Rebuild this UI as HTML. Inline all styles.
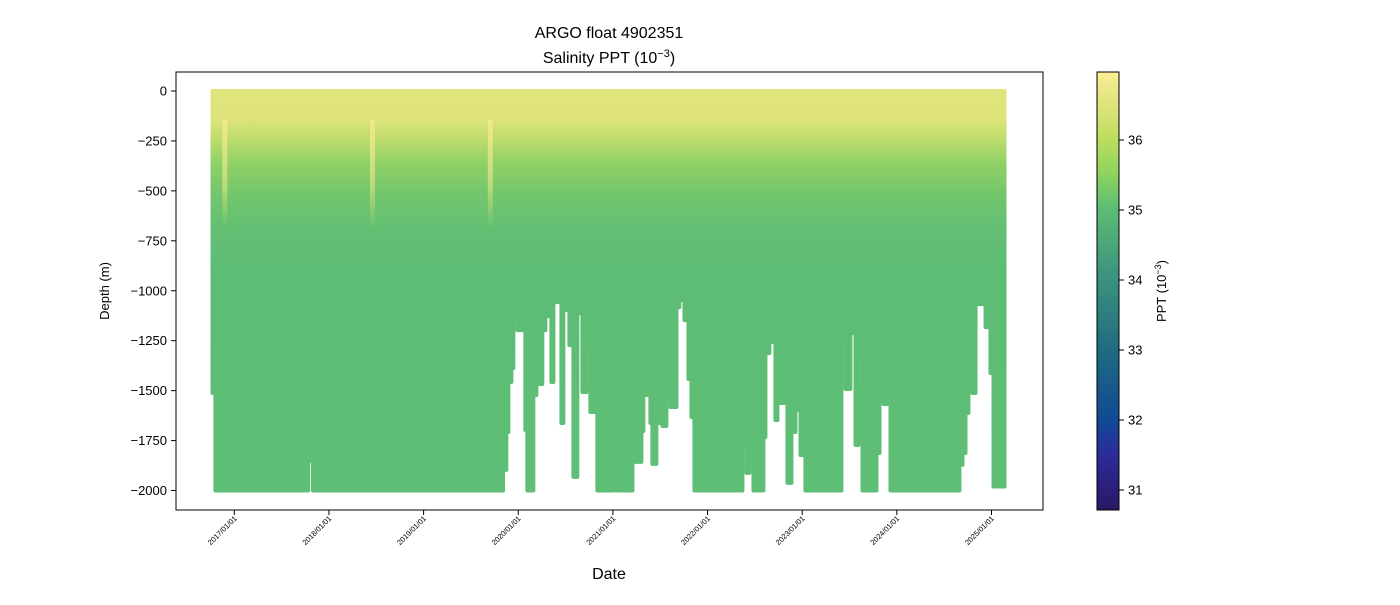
<!DOCTYPE html>
<html><head><meta charset="utf-8"><style>
body{margin:0;background:#fff;font-family:"Liberation Sans",sans-serif}
svg text{font-family:"Liberation Sans","DejaVu Sans",sans-serif}
</style></head><body>
<svg id="chart" width="1400" height="600" xmlns="http://www.w3.org/2000/svg">
<defs>
<linearGradient id="cbGrad" x1="0" y1="1" x2="0" y2="0">
<stop offset="0" stop-color="#2a1864"/>
<stop offset="0.13" stop-color="#2c2c9c"/>
<stop offset="0.21" stop-color="#0f4c92"/>
<stop offset="0.37" stop-color="#226c80"/>
<stop offset="0.53" stop-color="#3b927f"/>
<stop offset="0.69" stop-color="#5cbd74"/>
<stop offset="0.77" stop-color="#8fd45e"/>
<stop offset="0.85" stop-color="#bede5e"/>
<stop offset="0.93" stop-color="#e0e47e"/>
<stop offset="1" stop-color="#fbed95"/>
</linearGradient>
<linearGradient id="profGrad" gradientUnits="userSpaceOnUse" x1="0" y1="89" x2="0" y2="500">
<stop offset="0" stop-color="#e0e47c"/>
<stop offset="0.075" stop-color="#dde37a"/>
<stop offset="0.124" stop-color="#bcdc6b"/>
<stop offset="0.18" stop-color="#8fd165"/>
<stop offset="0.26" stop-color="#72c66c"/>
<stop offset="0.34" stop-color="#62bf73"/>
<stop offset="0.45" stop-color="#5ebd75"/>
<stop offset="1" stop-color="#5ebe76"/>
</linearGradient>
<linearGradient id="streakGrad" x1="0" y1="0" x2="0" y2="1">
<stop offset="0" stop-color="#f0e98c" stop-opacity="0.9"/>
<stop offset="0.6" stop-color="#e8e785" stop-opacity="0.6"/>
<stop offset="1" stop-color="#c8df70" stop-opacity="0"/>
</linearGradient>
<clipPath id="profClip"></clipPath>
</defs>
<text x="609" y="38" text-anchor="middle" font-size="16">ARGO float 4902351</text>
<text x="609" y="63" text-anchor="middle" font-size="16">Salinity PPT (10<tspan baseline-shift="super" font-size="11">−3</tspan>)</text>
<g>
<rect x="176" y="72" width="867" height="438" fill="#fff"/>
<g clip-path="url(#profClip)">
<rect x="176" y="72" width="867" height="438" fill="url(#profGrad)"/>
<g id="streaks"></g>
</g>
<rect x="176" y="72" width="867" height="438" fill="none" stroke="#000" stroke-width="1"/>
</g>
<g id="yaxis"></g>
<g id="xaxis"></g>
<text transform="translate(109,291) rotate(-90)" text-anchor="middle" font-size="13">Depth (m)</text>
<text x="609" y="579" text-anchor="middle" font-size="16">Date</text>
<g>
<rect x="1097" y="72" width="22" height="438" fill="url(#cbGrad)" stroke="#000" stroke-width="1"/>
<g id="cbticks"></g>
<text transform="translate(1166,291) rotate(-90)" text-anchor="middle" font-size="13">PPT (10<tspan baseline-shift="super" font-size="9">−3</tspan>)</text>
</g>
</svg>
<script>
// profile segments: start date (decimal year) and max depth (m)
const segStart = [2016.77,2016.80,2017.79,2017.83,2019.85,2019.885,2019.906,2019.938,2019.959,2019.991,2020.075,2020.096,2020.170,2020.202,2020.265,2020.297,2020.350,2020.382,2020.456,2020.487,2020.540,2020.583,2020.635,2020.678,2020.731,2020.762,2020.836,2021.026,2021.047,2021.217,2021.312,2021.333,2021.396,2021.417,2021.470,2021.502,2021.523,2021.576,2021.608,2021.682,2021.713,2021.756,2021.798,2021.830,2021.861,2022.379,2022.411,2022.453,2022.485,2022.601,2022.622,2022.664,2022.717,2022.749,2022.844,2022.897,2022.939,2022.982,2023.034,2023.425,2023.457,2023.520,2023.563,2023.605,2023.637,2023.795,2023.827,2023.859,2023.933,2024.672,2024.704,2024.736,2024.767,2024.799,2024.842,2024.937,2024.989,2025.021];
const segEnd = 2025.148;
const segDepth = [-1512,-2000,-1852,-2000,-1897,-1707,-1457,-1387,-1137,-1197,-1697,-2000,-1522,-1467,-1197,-1127,-1457,-1057,-1662,-1097,-1272,-1932,-1112,-1507,-1282,-1607,-2000,-1962,-2000,-1857,-1702,-1522,-1662,-1867,-1662,-1572,-1677,-1532,-1582,-1082,-1047,-1147,-1442,-1632,-2000,-1772,-1912,-1882,-2000,-1732,-1312,-1257,-1647,-1562,-1962,-1707,-1597,-1822,-2000,-1262,-1492,-1212,-1772,-1327,-2000,-1812,-1387,-1567,-2000,-1872,-1812,-1612,-1447,-1512,-1067,-1182,-1412,-1980];
const streakDates = [2016.90,2018.46,2019.705];
const yTicks = [0,-250,-500,-750,-1000,-1250,-1500,-1750,-2000];
const xTicks = [2017,2018,2019,2020,2021,2022,2023,2024,2025];
const xTickLabels = ["2017/01/01","2018/01/01","2019/01/01","2020/01/01","2021/01/01","2022/01/01","2023/01/01","2024/01/01","2025/01/01"];
const cbTicks = [31,32,33,34,35,36];

const NS='http://www.w3.org/2000/svg';
const xs = d => 234.3 + (d-2017)*94.65;
const ys = v => 91 - v*0.19975;
const cs = v => 490 - (v-31)*70;
function mk(tag, attrs, parent){const e=document.createElementNS(NS,tag);for(const k in attrs)e.setAttribute(k,attrs[k]);parent.appendChild(e);return e;}

const clipG=document.getElementById('profClip');
for(let i=0;i<segStart.length;i++){
  const x0=xs(segStart[i])-2, x1=xs(i+1<segStart.length?segStart[i+1]:segEnd)+1;
  const r=mk('rect',{x:x0,y:89,width:Math.max(x1-x0,3),height:ys(segDepth[i])-89+2,rx:2},clipG);
  
  
}
const st=document.getElementById('streaks');
streakDates.forEach(d=>{
  const r=mk('rect',{x:xs(d)-2.5,y:120,width:5,height:110,fill:'url(#streakGrad)'},st);
  
  
});
const ya=document.getElementById('yaxis');
yTicks.forEach(v=>{
  const y=ys(v);
  mk('line',{x1:171,x2:176,y1:y,y2:y,stroke:'#000'},ya);
  const t=mk('text',{x:167,y:y+4.5,'text-anchor':'end','font-size':13},ya);
  t.textContent=v===0?'0':'−'+Math.abs(v);
  
  
});
const xa=document.getElementById('xaxis');
xTicks.forEach((v,i)=>{
  const x=xs(v);
  mk('line',{x1:x,x2:x,y1:510,y2:515,stroke:'#000'},xa);
  const t=mk('text',{transform:`translate(${x+3},${519}) rotate(-45)`,'text-anchor':'end','font-size':7.5},xa);
  t.textContent=xTickLabels[i];
  
  
});
const cb=document.getElementById('cbticks');
cbTicks.forEach(v=>{
  const y=cs(v);
  mk('line',{x1:1119,x2:1124,y1:y,y2:y,stroke:'#000'},cb);
  const t=mk('text',{x:1128,y:y+4.5,'font-size':13},cb);
  t.textContent=String(v);
  
  
});
</script>
</body></html>
